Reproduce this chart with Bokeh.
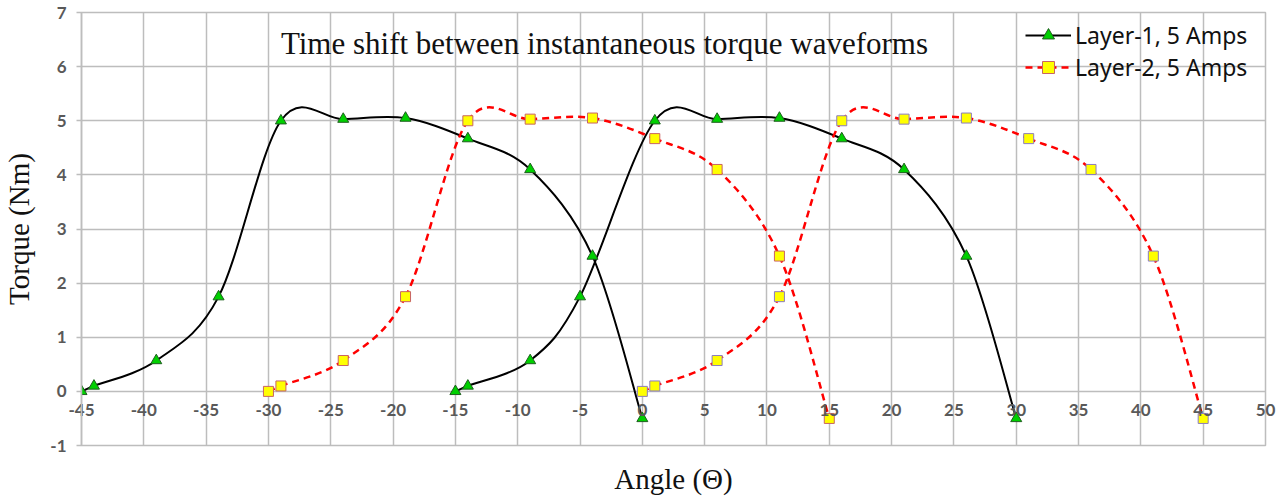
from bokeh.plotting import figure
from bokeh.models import (Range1d, FixedTicker, Label, Legend, LegendItem,
                          ColumnDataSource)
from bokeh.embed import file_html
from bokeh.resources import INLINE

# ---------------- data ----------------
L1A_X = [-45, -44, -39, -34, -29, -24, -19, -14, -9, -4, 0]
L1A_Y = [0.0, 0.1, 0.57, 1.75, 5.0, 5.03, 5.05, 4.67, 4.1, 2.5, -0.5]
L1B_X = [-15, -14, -9, -5, 1, 6, 11, 16, 21, 26, 30]
L1B_Y = [0.0, 0.1, 0.57, 1.75, 5.0, 5.03, 5.05, 4.67, 4.1, 2.5, -0.5]
L2A_X = [-30, -29, -24, -19, -14, -9, -4, 1, 6, 11, 15]
L2A_Y = [0.0, 0.1, 0.57, 1.75, 5.0, 5.03, 5.05, 4.67, 4.1, 2.5, -0.5]
L2B_X = [0, 1, 6, 11, 16, 21, 26, 31, 36, 41, 45]
L2B_Y = [0.0, 0.1, 0.57, 1.75, 5.0, 5.03, 5.05, 4.67, 4.1, 2.5, -0.5]

X_TICKS = list(range(-45, 55, 5))
X_TICK_LABELS = [str(t) for t in X_TICKS]
Y_TICKS = list(range(-1, 8))
Y_TICK_LABELS = [str(t) for t in Y_TICKS]

SERIES_1 = "Layer-1, 5 Amps"
SERIES_2 = "Layer-2, 5 Amps"
TITLE = "Time shift between  instantaneous torque waveforms"
X_LABEL = "Angle (\u0398)"
Y_LABEL = "Torque (Nm)"


def smooth_segments(xs, ys):
    """Bezier control points (Catmull-Rom style) like a spreadsheet smoothed line."""
    n = len(xs)
    d = dict(x0=[], y0=[], x1=[], y1=[], cx0=[], cy0=[], cx1=[], cy1=[])
    for i in range(n - 1):
        xp, yp = (xs[i - 1], ys[i - 1]) if i > 0 else (xs[i], ys[i])
        xn2, yn2 = (xs[i + 2], ys[i + 2]) if i + 2 < n else (xs[i + 1], ys[i + 1])
        d["x0"].append(xs[i]); d["y0"].append(ys[i])
        d["x1"].append(xs[i + 1]); d["y1"].append(ys[i + 1])
        d["cx0"].append(xs[i] + (xs[i + 1] - xp) / 6.0)
        d["cy0"].append(ys[i] + (ys[i + 1] - yp) / 6.0)
        d["cx1"].append(xs[i + 1] - (xn2 - xs[i]) / 6.0)
        d["cy1"].append(ys[i + 1] - (yn2 - ys[i]) / 6.0)
    return ColumnDataSource(d)


GRID = "#BDBDBD"
TICK_COLOR = "#595959"
TICK_FONT = "Lato"
TICK_SIZE = "17px"

p = figure(width=1287, height=501, output_backend="svg", toolbar_location=None,
           x_range=Range1d(-45, 50), y_range=Range1d(-1, 7),
           min_border_left=78, min_border_right=22, min_border_top=12,
           min_border_bottom=56)
p.background_fill_color = "white"
p.border_fill_color = "white"
p.outline_line_color = GRID
p.outline_line_width = 1.5

# x axis below the frame, its tick labels pulled up to hang under y = 0
xax = p.xaxis[0]
xax.ticker = FixedTicker(ticks=X_TICKS)
xax.major_label_overrides = dict(zip(X_TICKS, X_TICK_LABELS))
xax.axis_line_color = None
xax.major_tick_line_color = None
xax.minor_tick_line_color = None
xax.major_tick_in = 0
xax.major_tick_out = 0
xax.major_label_standoff = -42
xax.major_label_text_font = TICK_FONT
xax.major_label_text_font_style = "bold"
xax.major_label_text_font_size = TICK_SIZE
xax.major_label_text_color = TICK_COLOR
xax.axis_label = X_LABEL
xax.axis_label_standoff = 44
xax.axis_label_text_font = "Liberation Serif"
xax.axis_label_text_font_size = "29px"
xax.axis_label_text_font_style = "normal"
xax.axis_label_text_color = "#111111"
p.xgrid.ticker = FixedTicker(ticks=X_TICKS)
p.xgrid.grid_line_color = GRID
p.xgrid.grid_line_width = 1.5

yax = p.yaxis[0]
yax.ticker = FixedTicker(ticks=Y_TICKS)
yax.major_label_overrides = dict(zip(Y_TICKS, Y_TICK_LABELS))
yax.axis_line_color = GRID
yax.axis_line_width = 1.5
yax.major_tick_line_color = GRID
yax.major_tick_line_width = 1.5
yax.major_tick_in = 0
yax.major_tick_out = 5
yax.minor_tick_line_color = None
yax.major_label_standoff = 10
yax.major_label_text_font = TICK_FONT
yax.major_label_text_font_style = "bold"
yax.major_label_text_font_size = TICK_SIZE
yax.major_label_text_color = TICK_COLOR
yax.axis_label = Y_LABEL
yax.axis_label_standoff = 12
yax.axis_label_text_font = "Liberation Serif"
yax.axis_label_text_font_size = "29px"
yax.axis_label_text_font_style = "normal"
yax.axis_label_text_color = "#111111"
p.ygrid.ticker = FixedTicker(ticks=Y_TICKS)
p.ygrid.grid_line_color = GRID
p.ygrid.grid_line_width = 1.5

# curves
r_l1 = None
for xs, ys in [(L1A_X, L1A_Y), (L1B_X, L1B_Y)]:
    r = p.bezier(x0="x0", y0="y0", x1="x1", y1="y1", cx0="cx0", cy0="cy0",
                 cx1="cx1", cy1="cy1", source=smooth_segments(xs, ys),
                 line_color="black", line_width=2)
    r_l1 = r_l1 or r
r_l2 = None
for xs, ys in [(L2A_X, L2A_Y), (L2B_X, L2B_Y)]:
    r = p.bezier(x0="x0", y0="y0", x1="x1", y1="y1", cx0="cx0", cy0="cy0",
                 cx1="cx1", cy1="cy1", source=smooth_segments(xs, ys),
                 line_color="#FF0000", line_width=2.5, line_dash="7 5")
    r_l2 = r_l2 or r

# markers
m_l1 = p.scatter(L1A_X, L1A_Y, marker="triangle", size=11, fill_color="#00D000",
                 line_color="#1E5E1E", line_width=1)
p.scatter(L1B_X, L1B_Y, marker="triangle", size=11, fill_color="#00D000",
          line_color="#1E5E1E", line_width=1)
m_l2 = p.scatter(L2A_X, L2A_Y, marker="square", size=10, fill_color="#FFFF00",
                 line_color="#C86464", line_width=1)
p.scatter(L2B_X, L2B_Y, marker="square", size=10, fill_color="#FFFF00",
          line_color="#8C7CC0", line_width=1)

legend = Legend(items=[LegendItem(label=SERIES_1, renderers=[r_l1, m_l1]),
                       LegendItem(label=SERIES_2, renderers=[r_l2, m_l2])],
                location=(944, 362), orientation="vertical",
                background_fill_alpha=0, border_line_alpha=0,
                label_text_font="Noto Sans", label_text_font_size="23px",
                label_text_color="#111111", glyph_width=46, glyph_height=30,
                label_height=30, label_standoff=4, padding=0, spacing=0,
                margin=0)
p.add_layout(legend, "center")

# title inside the plot area
p.add_layout(Label(x=-29.0, y=6.43, text=TITLE, text_font="Liberation Serif",
                   text_font_size="31px", text_color="#111111",
                   text_baseline="middle", text_align="left"))

open("out.html", "w").write(file_html(p, INLINE))
